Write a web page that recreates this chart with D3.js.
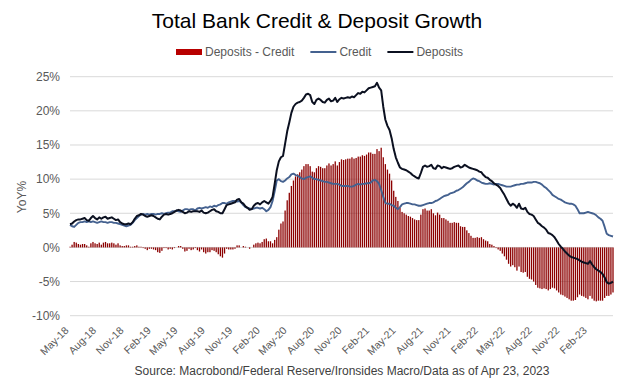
<!DOCTYPE html>
<html lang="en">
<head>
<meta charset="utf-8">
<style type="text/css">
    body { margin: 0; background: #fff; }
    svg { display: block; font-family: "Liberation Sans", Arial, sans-serif; }
    .grid line { stroke: #d9d9d9; stroke-width: 1; }
    .axis text { fill: #595959; }
    .axis path { display: none; }
</style>
</head>
<body>
<svg width="633" height="389"></svg>

<script src="https://cdnjs.cloudflare.com/ajax/libs/d3/7.8.5/d3.min.js"></script>
<script type="text/javascript">
    // weekly YoY growth, % (first week: 18 Apr 2018)
    var startDate = new Date(2018, 3, 18);

    var deposits = [
        3.4, 3.5, 3.8, 4.0, 4.1, 4.1, 4.2, 4.3, 4.0, 3.9,
        4.3, 4.6, 4.3, 4.1, 4.4, 4.2, 4.4, 4.5, 4.2, 4.3,
        4.4, 4.2, 4.0, 4.1, 3.7, 3.5, 3.4, 3.4, 3.5, 3.4,
        3.7, 4.2, 4.6, 4.7, 4.9, 4.8, 4.6, 4.5, 4.6, 4.7,
        4.6, 4.4, 4.2, 4.1, 4.5, 4.8, 4.9, 4.8, 4.9, 5.0,
        5.2, 5.4, 5.5, 5.4, 5.2, 5.0, 5.1, 5.3, 5.2, 5.3,
        5.3, 5.3, 5.2, 5.4, 5.1, 5.0, 5.1, 5.3, 5.5, 5.6,
        5.3, 5.2, 5.0, 5.0, 5.6, 6.2, 6.3, 6.4, 6.5, 6.6,
        7.0, 7.1, 6.6, 6.4, 6.0, 5.8, 5.5, 5.6, 6.1, 6.4,
        6.5, 6.3, 6.6, 6.8, 6.6, 6.4, 6.8, 7.4, 9.3, 11.3,
        12.6, 13.2, 13.4, 15.2, 17.0, 18.3, 19.7, 20.6, 21.0, 21.2,
        21.3, 21.5, 21.9, 22.4, 22.5, 22.3, 21.3, 21.0, 21.6, 21.8,
        21.6, 21.3, 21.2, 21.6, 21.8, 21.4, 21.5, 21.9, 21.3, 21.7,
        21.9, 21.8, 21.9, 22.0, 21.9, 22.1, 22.0, 22.3, 22.6, 22.5,
        22.8, 22.7, 23.0, 23.3, 23.4, 23.5, 23.6, 24.1, 23.4, 23.0,
        20.6, 18.7, 17.8, 17.2, 16.0, 14.4, 13.2, 12.4, 11.7, 11.5,
        11.4, 11.3, 11.1, 10.9, 10.6, 10.4, 10.2, 10.1, 10.9, 11.8,
        12.0, 11.8, 11.9, 12.1, 11.6, 11.5, 12.0, 11.9, 11.6, 11.8,
        11.7, 11.6, 11.5, 11.6, 11.8, 11.9, 12.0, 11.7, 11.8, 12.1,
        11.9, 11.7, 11.6, 11.5, 11.4, 11.3, 11.1, 11.0, 10.6, 10.3,
        10.2, 9.9, 9.7, 9.4, 9.2, 9.0, 8.7, 8.2, 7.7, 7.1,
        6.5, 6.1, 6.4, 6.2, 5.8, 6.4, 5.7, 5.6, 5.8, 5.2,
        4.9, 4.8, 4.6, 4.1, 3.6, 3.4, 3.1, 2.9, 2.6, 2.1,
        2.0, 1.8, 1.5, 1.0, 0.5, 0.1, -0.2, -0.6, -0.9, -1.2,
        -1.4, -1.5, -1.6, -1.7, -1.9, -2.1, -2.2, -2.3, -2.4, -2.0,
        -2.5, -2.9, -3.2, -3.4, -3.6, -3.9, -4.4, -5.1, -5.3, -5.2, -5.0
    ];

    var credit = [
        3.3, 3.1, 3.0, 3.3, 3.6, 3.7, 3.7, 3.8, 3.7, 3.8,
        3.7, 3.8, 3.7, 3.6, 3.7, 3.8, 3.7, 3.7, 3.6, 3.7,
        3.7, 3.6, 3.6, 3.5, 3.4, 3.3, 3.2, 3.1, 3.2, 3.3,
        3.6, 4.0, 4.3, 4.6, 4.8, 4.9, 4.8, 4.9, 4.8, 4.9,
        4.9, 4.8, 4.9, 4.9, 5.0, 4.9, 5.0, 5.1, 5.1, 5.3,
        5.3, 5.4, 5.3, 5.2, 5.4, 5.6, 5.6, 5.5, 5.6, 5.6,
        5.4, 5.7, 5.8, 5.7, 5.8, 5.9, 5.8, 6.0, 5.9, 6.1,
        6.0, 6.2, 6.3, 6.5, 6.5, 6.4, 6.6, 6.7, 6.8, 6.8,
        6.7, 6.8, 6.6, 6.2, 5.9, 5.8, 5.7, 5.6, 5.7, 5.8,
        5.8, 5.7, 5.8, 5.6, 5.3, 5.5, 5.9, 6.8, 8.2, 9.8,
        10.0, 9.7, 9.6, 9.8, 10.1, 10.3, 10.7, 10.8, 10.6, 10.5,
        10.3, 10.1, 10.0, 10.2, 10.3, 10.4, 10.2, 10.0, 10.0, 9.9,
        9.8, 9.7, 9.6, 9.6, 9.5, 9.4, 9.3, 9.3, 9.3, 9.2,
        9.0, 9.0, 9.0, 9.0, 8.9, 8.9, 9.0, 9.2, 9.3, 9.2,
        9.3, 9.3, 9.4, 9.4, 9.5, 9.8, 9.9, 9.7, 9.3, 8.4,
        7.4, 6.5, 6.4, 6.4, 6.2, 6.1, 5.8, 5.6, 5.9, 6.3,
        6.4, 6.5, 6.5, 6.4, 6.3, 6.3, 6.2, 6.1, 6.1, 6.2,
        6.3, 6.4, 6.5, 6.5, 6.6, 6.8, 6.9, 7.1, 7.3, 7.5,
        7.6, 7.7, 7.9, 8.0, 8.1, 8.3, 8.4, 8.6, 8.8, 9.1,
        9.4, 9.6, 9.9, 10.1, 10.0, 9.8, 9.7, 9.5, 9.4, 9.3,
        9.3, 9.4, 9.3, 9.2, 9.3, 9.3, 9.2, 9.1, 9.0, 8.9,
        8.9, 8.9, 9.0, 9.1, 9.2, 9.2, 9.3, 9.3, 9.4, 9.5,
        9.5, 9.5, 9.6, 9.6, 9.5, 9.4, 9.2, 8.9, 8.7, 8.4,
        8.1, 7.7, 7.5, 7.3, 7.1, 7.0, 6.8, 6.6, 6.5, 6.4,
        6.4, 6.3, 6.1, 5.6, 5.0, 5.0, 5.0, 5.1, 5.2, 5.1,
        5.0, 4.9, 4.7, 4.4, 4.2, 3.9, 3.0, 2.0, 1.8, 1.7, 1.6
    ];

    var xTickLabels = ["May-18", "Aug-18", "Nov-18", "Feb-19", "May-19", "Aug-19", "Nov-19",
        "Feb-20", "May-20", "Aug-20", "Nov-20", "Feb-21", "May-21", "Aug-21", "Nov-21",
        "Feb-22", "May-22", "Aug-22", "Nov-22", "Feb-23"];
    var yTicks = [-10, -5, 0, 5, 10, 15, 20, 25];

    var seriesNames = ["Deposits - Credit", "Credit", "Deposits"];
    var colors = {"Deposits - Credit": "#b80000", "Credit": "#44618f", "Deposits": "#0b1020"};
    var barColor = "#8c0000";

    var data = deposits.map(function (d, i) {
        return {
            date: d3.timeDay.offset(startDate, 7 * i),
            deposits: d,
            credit: credit[i],
            diff: d - credit[i]
        };
    });

    var svg = d3.select("svg"),
        plotLeft = 70, plotRight = 613, plotTop = 76.7, plotBottom = 315.7;

    var x = d3.scaleTime()
        .domain(d3.extent(data, function (d) { return d.date; }))
        .range([plotLeft, plotRight]);

    var y = d3.scaleLinear().domain([-10, 25]).range([plotBottom, plotTop]);

    // gridlines
    svg.append("g").attr("class", "grid")
        .selectAll("line").data(yTicks).enter().append("line")
        .attr("x1", plotLeft).attr("x2", plotRight)
        .attr("y1", function (d) { return y(d); })
        .attr("y2", function (d) { return y(d); });

    // bars: deposits minus credit
    svg.append("g").selectAll("rect").data(data).enter().append("rect")
        .attr("x", function (d) { return x(d.date) - 0.65; })
        .attr("width", 1.3)
        .attr("y", function (d) { return y(Math.max(0, d.diff)); })
        .attr("height", function (d) { return Math.abs(y(d.diff) - y(0)); })
        .attr("fill", barColor);

    var line = function (key) {
        return d3.line()
            .x(function (d) { return x(d.date); })
            .y(function (d) { return y(d[key]); });
    };

    svg.append("path").datum(data)
        .attr("fill", "none")
        .attr("stroke", colors["Credit"])
        .attr("stroke-width", 1.9)
        .attr("stroke-linejoin", "round")
        .attr("d", line("credit"));

    svg.append("path").datum(data)
        .attr("fill", "none")
        .attr("stroke", colors["Deposits"])
        .attr("stroke-width", 2)
        .attr("stroke-linejoin", "round")
        .attr("d", line("deposits"));

    // y axis
    svg.append("g").attr("class", "axis")
        .attr("transform", "translate(" + plotLeft + ",0)")
        .call(d3.axisLeft(y).tickValues(yTicks).tickSize(0).tickPadding(10)
            .tickFormat(function (d) { return d + "%"; }))
        .selectAll("text").style("font-size", "12px");

    svg.append("text")
        .attr("transform", "translate(26,197) rotate(-90)")
        .attr("text-anchor", "middle")
        .style("font-size", "12px")
        .attr("fill", "#595959")
        .text("YoY%");

    // x axis
    var parseTick = d3.timeParse("%b-%y");
    svg.append("g").attr("class", "axis")
        .call(d3.axisBottom(x).tickValues(xTickLabels.map(parseTick)).tickSize(0)
            .tickFormat(d3.timeFormat("%b-%y")))
        .selectAll("text")
        .style("font-size", "10.5px")
        .attr("y", 0).attr("dy", 0)
        .attr("text-anchor", "end")
        .attr("transform", "translate(-5,331) rotate(-45)");

    // title
    svg.append("text")
        .attr("x", 317).attr("y", 28)
        .attr("text-anchor", "middle")
        .style("font-size", "21px")
        .attr("fill", "#000")
        .text("Total Bank Credit & Deposit Growth");

    // legend
    var lx = 176;
    seriesNames.forEach(function (name, i) {
        var g = svg.append("g");
        if (i === 0) {
            g.append("rect").attr("x", lx).attr("y", 49).attr("width", 26).attr("height", 6)
                .attr("fill", colors[name]);
        } else {
            g.append("line").attr("x1", lx).attr("x2", lx + 26).attr("y1", 52).attr("y2", 52)
                .attr("stroke", colors[name]).attr("stroke-width", 2);
        }
        var t = g.append("text").attr("x", lx + 29).attr("y", 56)
            .style("font-size", "12px").attr("fill", "#595959").text(name);
        lx += 29 + t.node().getComputedTextLength() + 16;
    });

    // source
    svg.append("text")
        .attr("x", 342).attr("y", 375)
        .attr("text-anchor", "middle")
        .style("font-size", "12px")
        .attr("fill", "#404040")
        .text("Source: Macrobond/Federal Reserve/Ironsides Macro/Data as of Apr 23, 2023");
</script>
</body>
</html>
